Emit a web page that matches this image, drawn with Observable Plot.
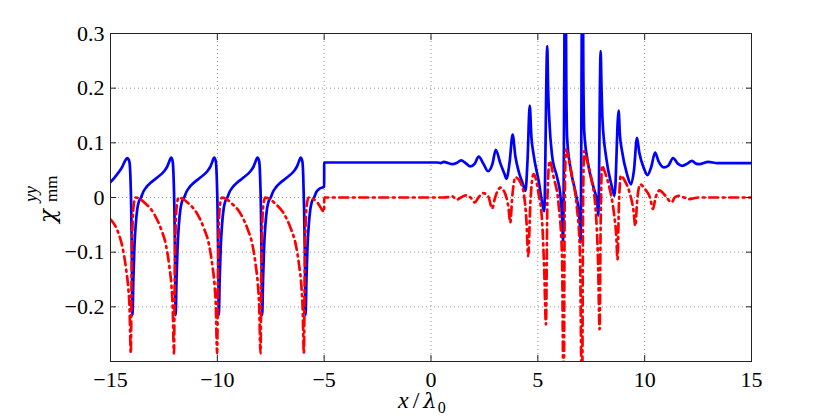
<!DOCTYPE html>
<html><head><meta charset="utf-8">
<script src="https://cdn.jsdelivr.net/npm/d3@7"></script>
<script src="https://cdn.jsdelivr.net/npm/@observablehq/plot@0.6"></script>
<style>html,body{margin:0;padding:0;background:#fff;}</style>
</head><body><div id="chart"></div>
<script>
const xTicks = [-15, -10, -5, 0, 5, 10, 15];
const yTicks = [-0.2, -0.1, 0, 0.1, 0.2, 0.3];

// solid blue curve
const blueX = [
-15.00,-14.80,-14.60,-14.45,-14.33,-14.22,-14.12,-14.07,-14.03,-14.00,-13.97,-13.93,-13.88,-13.82,-13.75,-13.67,-13.57,-13.47,-13.32,-13.12,-12.80,-12.49,-12.34,-12.25,
-12.16,-12.09,-12.05,-12.01,-11.98,-11.95,-11.91,-11.86,-11.80,-11.73,-11.65,-11.55,-11.45,-11.30,-11.10,-10.78,-10.47,-10.32,-10.23,
-10.15,-10.07,-10.03,-9.99,-9.96,-9.93,-9.89,-9.84,-9.78,-9.71,-9.63,-9.53,-9.43,-9.28,-9.08,-8.76,-8.45,-8.30,-8.21,
-8.12,-8.04,-8.00,-7.96,-7.93,-7.90,-7.86,-7.81,-7.75,-7.68,-7.60,-7.50,-7.40,-7.25,-7.05,-6.73,-6.42,-6.27,-6.18,
-6.10,-6.02,-5.98,-5.94,-5.90,-5.87,-5.83,-5.78,-5.72,-5.65,-5.57,-5.47,-5.37,-5.22,-5.00,-4.999,
0.30,0.45,0.60,0.80,0.99,1.20,1.41,1.62,1.84,2.05,2.23,2.45,2.67,2.88,3.03,3.25,3.45,3.53,3.68,3.82,3.95,4.10,4.30,4.42,4.52,4.62,4.70,4.80,5.04,5.27,5.30,
5.44,5.48,5.54,5.66,5.90,6.05,6.14,6.18,6.29,6.33,6.37,6.52,6.75,6.91,6.97,7.00,7.09,7.13,7.17,7.33,7.61,7.78,7.83,
7.94,7.98,8.03,8.20,8.44,8.59,8.78,8.84,8.94,9.17,9.36,9.50,9.64,9.75,9.95,10.13,10.30,10.49,10.65,10.90,11.10,11.33,11.55,11.76,12.00,12.21,12.40,12.55,12.98,13.40,15.00
];
const blueY = [
0.028,0.037,0.047,0.056,0.066,0.072,0.066,0.040,-0.020,-0.110,-0.215,-0.150,-0.090,-0.050,-0.022,-0.007,0.000,0.010,0.019,0.027,0.037,0.048,0.057,0.066,
0.073,0.066,0.040,-0.020,-0.110,-0.215,-0.150,-0.090,-0.050,-0.022,-0.007,0.000,0.010,0.019,0.027,0.037,0.048,0.057,0.066,
0.073,0.066,0.040,-0.020,-0.110,-0.215,-0.150,-0.090,-0.050,-0.022,-0.007,0.000,0.010,0.019,0.027,0.037,0.048,0.057,0.066,
0.073,0.066,0.040,-0.020,-0.110,-0.215,-0.150,-0.090,-0.050,-0.022,-0.007,0.000,0.010,0.019,0.027,0.037,0.048,0.057,0.066,
0.073,0.066,0.040,-0.020,-0.110,-0.215,-0.150,-0.090,-0.050,-0.022,-0.007,0.000,0.010,0.016,0.020,0.064,
0.064,0.063,0.065,0.063,0.061,0.063,0.068,0.063,0.057,0.062,0.075,0.062,0.048,0.062,0.087,0.062,0.042,0.034,0.065,0.115,0.075,0.048,0.025,0.012,0.070,0.168,0.110,0.079,0.030,-0.022,-0.025,
0.277,0.200,0.140,0.079,0.037,0.006,-0.040,-0.079,0.500,0.220,0.110,0.055,0.012,-0.024,-0.050,-0.082,0.500,0.230,0.122,0.067,0.018,-0.010,-0.033,
0.268,0.200,0.140,0.073,0.024,0.003,0.159,0.115,0.085,0.043,0.024,0.050,0.109,0.082,0.055,0.041,0.055,0.082,0.066,0.055,0.058,0.072,0.062,0.058,0.062,0.067,0.062,0.061,0.065,0.063,0.063
];

// dash-dot red curve
const redX = [
-15.00,-14.67,-14.44,-14.28,-14.17,-14.11,-14.05,-14.01,-13.97,-13.91,-13.83,-13.65,-13.42,-12.96,-12.63,-12.41,-12.25,-12.15,-12.09,
-12.03,-11.99,-11.95,-11.89,-11.81,-11.63,-11.40,-10.94,-10.61,-10.39,-10.23,-10.13,-10.07,
-10.01,-9.97,-9.93,-9.87,-9.79,-9.61,-9.38,-8.91,-8.58,-8.36,-8.20,-8.10,-8.04,
-7.98,-7.94,-7.90,-7.84,-7.76,-7.58,-7.35,-6.88,-6.55,-6.33,-6.17,-6.07,-6.01,
-5.95,-5.91,-5.87,-5.81,-5.73,-5.55,-5.32,-5.00,-4.999,
0.60,0.85,1.00,1.20,1.40,1.62,1.85,2.05,2.22,2.45,2.68,2.86,3.00,3.25,3.48,3.63,3.71,3.80,3.95,4.15,4.35,4.47,4.55,4.65,4.80,5.04,5.20,5.30,5.38,5.45,5.55,5.74,5.97,6.13,
6.21,6.26,6.32,6.45,6.62,6.82,6.97,7.07,7.12,7.17,7.30,7.50,7.70,7.82,7.89,7.94,8.00,8.15,8.35,8.55,8.67,8.73,8.79,8.88,9.05,9.30,9.48,9.56,9.65,9.79,
10.00,10.25,10.39,10.50,10.70,10.95,11.27,11.40,11.60,11.85,12.10,12.50,15.00
];
const redY = [
-0.040,-0.061,-0.091,-0.128,-0.165,-0.200,-0.285,-0.140,-0.050,-0.012,0.000,-0.002,-0.009,-0.030,-0.058,-0.086,-0.125,-0.160,-0.200,
-0.285,-0.140,-0.050,-0.012,0.000,-0.002,-0.009,-0.030,-0.058,-0.086,-0.125,-0.160,-0.200,
-0.285,-0.140,-0.050,-0.012,0.000,-0.002,-0.009,-0.030,-0.058,-0.086,-0.125,-0.160,-0.200,
-0.285,-0.140,-0.050,-0.012,0.000,-0.002,-0.009,-0.030,-0.058,-0.086,-0.125,-0.160,-0.200,
-0.285,-0.140,-0.050,-0.012,0.000,-0.002,-0.009,-0.026,0.000,
0.000,0.001,0.002,-0.004,0.000,0.004,0.000,-0.009,0.000,0.008,0.002,-0.020,0.000,0.018,0.006,-0.020,-0.046,0.000,0.037,0.030,0.005,-0.045,-0.107,-0.010,0.043,0.006,-0.043,-0.134,-0.232,0.000,0.067,0.037,-0.012,-0.104,
-0.400,0.000,0.088,0.070,0.035,-0.015,-0.100,-0.400,0.000,0.085,0.068,0.035,-0.020,-0.120,-0.241,-0.050,0.058,0.045,0.018,-0.025,-0.070,-0.113,-0.020,0.040,0.032,0.008,-0.025,-0.052,-0.005,0.024,
0.016,0.000,-0.021,-0.002,0.013,0.004,-0.009,0.000,0.003,0.000,-0.003,0.000,0.000
];

const blue = blueX.map((x, i) => ({x, y: blueY[i]}));
const red = redX.map((x, i) => ({x, y: redY[i]}));

const SERIF = "Liberation Serif";
const GREEK = "DejaVu Serif";
const fmtY = d => d === 0 ? "0" : d3.format(".1f")(d);
const fmtX = d3.format("d");
const gridStyle = {stroke: "#555", strokeOpacity: 0.8, strokeWidth: 0.8, strokeDasharray: "1,3"};

const plot = Plot.plot({
  width: 831, height: 418,
  marginLeft: 110, marginRight: 80, marginTop: 33, marginBottom: 57,
  style: "font-family: 'Liberation Serif'; font-size: 22px; background: #fff; color: #000;",
  x: {domain: [-15, 15]},
  y: {domain: [-0.3, 0.3]},
  marks: [
    Plot.gridX(xTicks.slice(1, -1), gridStyle),
    Plot.gridY(yTicks.slice(0, -1), gridStyle),
    Plot.line(blue, {x: "x", y: "y", stroke: "#0000ff", strokeWidth: 2.7, curve: "monotone-x", clip: true}),
    Plot.line(red, {x: "x", y: "y", stroke: "#ff0000", strokeWidth: 2.7, strokeDasharray: "9,4.5,2,4.5", curve: "monotone-x", clip: true}),
    Plot.frame({stroke: "#222", strokeWidth: 1}),
    Plot.axisX(xTicks, {anchor: "bottom", tickSize: -6, fill: "none", stroke: "#222"}),
    Plot.axisX(xTicks, {anchor: "top", tickSize: -6, fill: "none", stroke: "#222"}),
    Plot.axisY(yTicks, {anchor: "left", tickSize: -6, fill: "none", stroke: "#222"}),
    Plot.axisY(yTicks, {anchor: "right", tickSize: -6, fill: "none", stroke: "#222"}),
    Plot.axisX(xTicks, {anchor: "bottom", tickSize: 0, tickPadding: 10, tickFormat: fmtX, label: null, fontSize: 22}),
    Plot.axisY(yTicks, {anchor: "left", tickSize: 0, tickPadding: 6, tickFormat: fmtY, label: null, fontSize: 22})
  ]
});

const svg = d3.select(plot);
svg.attr("font-family", SERIF);
svg.selectAll("text").attr("font-family", SERIF).style("font-family", SERIF);

// y label: chi^{yy}_{mm}
svg.append("text").attr("transform", "translate(55,216) rotate(-90)")
  .attr("text-anchor", "middle").attr("font-style", "italic")
  .style("font-family", GREEK).attr("font-size", 23).text("χ");
svg.append("text").attr("transform", "translate(37,202) rotate(-90)")
  .attr("text-anchor", "start").attr("font-style", "italic")
  .style("font-family", SERIF).attr("font-size", 18).text("yy");
svg.append("text").attr("transform", "translate(57,202) rotate(-90)")
  .attr("text-anchor", "start")
  .style("font-family", SERIF).attr("font-size", 17).text("mm");
// x label: x / lambda_0
const xl = svg.append("text").attr("x", 398).attr("y", 408).attr("text-anchor", "start")
  .attr("font-size", 24).style("font-family", SERIF);
xl.append("tspan").attr("font-style", "italic").text("x");
xl.append("tspan").attr("dx", 4).text("/");
xl.append("tspan").attr("dx", 4).attr("font-style", "italic").style("font-family", GREEK).attr("font-size", 21).text("λ");
xl.append("tspan").attr("dx", 1).attr("dy", 5).attr("font-size", 16).text("0");

document.getElementById("chart").append(plot);
</script>
</body></html>
